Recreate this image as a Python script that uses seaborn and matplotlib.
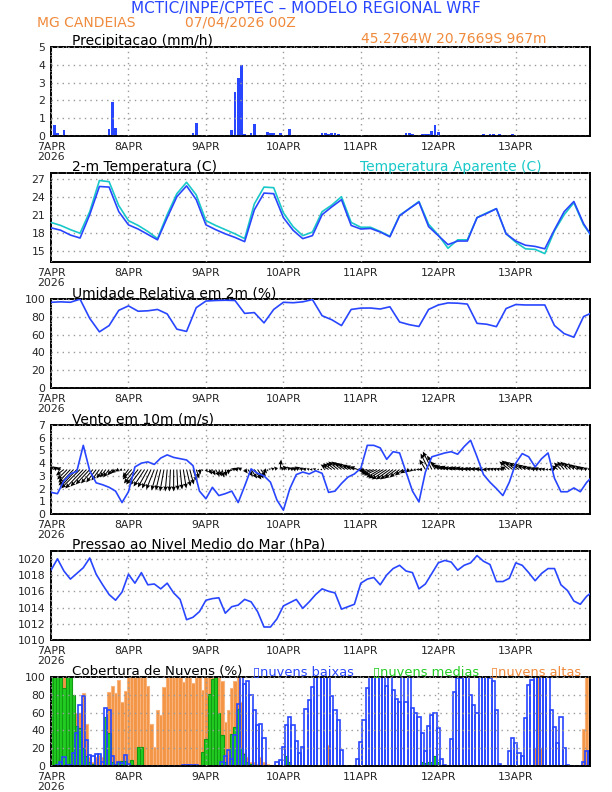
import numpy as np
import matplotlib
matplotlib.use("Agg")
import matplotlib.pyplot as plt
import seaborn as sns

sns.set_style("white")
plt.rcParams['font.family'] = ['DejaVu Sans']

AZUL = '#2846ff'
CIANO = '#19c8c8'
LARANJA = '#f08a3c'
VERDE = '#22cc22'

# eixos de tempo (horas desde 07/04/2026 00Z)
horas = np.arange(168)
horas_3h = np.arange(0, 169, 3)
horas_2h = np.arange(0, 169, 2)
dias = [0, 24, 48, 72, 96, 120, 144]
rotulos_dias = ['7APR\n2026', '8APR', '9APR', '10APR', '11APR', '12APR', '13APR']

# precipitacao horaria (mm/h)
precip = [
    0, 0.6, 0.15, 0, 0.35, 0, 0, 0, 0, 0, 0, 0, 0, 0, 0, 0.02, 0.02, 0.02, 0.4, 1.9, 0.45, 0, 0, 0,
    0, 0, 0, 0, 0, 0, 0, 0, 0, 0, 0, 0, 0, 0, 0, 0, 0, 0.02, 0.02, 0.02, 0.15, 0.75, 0, 0,
    0, 0.02, 0.02, 0, 0, 0, 0, 0, 0.35, 2.5, 3.25, 4.0, 0.1, 0, 0.15, 0.7, 0, 0.02, 0.02, 0.2, 0.15, 0.15, 0.05, 0.15,
    0, 0.05, 0.4, 0.05, 0, 0, 0, 0, 0, 0, 0, 0.02, 0.15, 0.15, 0.1, 0.15, 0.15, 0.1, 0.05, 0, 0, 0, 0, 0,
    0, 0, 0, 0, 0, 0, 0, 0, 0, 0, 0, 0, 0, 0.02, 0.15, 0.15, 0.1, 0.02, 0.02, 0.1, 0.1, 0.1, 0.3, 0.6,
    0.2, 0.02, 0, 0, 0, 0, 0, 0, 0, 0, 0, 0, 0, 0.02, 0.1, 0.05, 0.1, 0.1, 0.05, 0.1, 0.05, 0, 0, 0.1,
    0.02, 0, 0, 0, 0, 0, 0, 0, 0, 0, 0, 0, 0, 0, 0, 0, 0, 0.03, 0.03, 0.03, 0.03, 0.03, 0.03, 0.03,
]

# temperatura e temperatura aparente (C), a cada 3 h
temp = [18.8, 18.4, 17.6, 17.1, 21.0, 25.7, 25.6, 21.5, 19.3, 18.6, 17.7, 16.8, 20.5, 24.0, 25.8, 23.5,
        19.3, 18.5, 17.8, 17.2, 16.5, 21.8, 24.6, 24.5, 20.5, 18.4, 17.0, 17.5, 21.0, 22.3, 23.5, 19.2,
        18.6, 18.7, 18.1, 17.3, 20.8, 22.0, 23.1, 19.0, 17.5, 16.0, 16.6, 16.6, 20.5, 21.2, 22.0, 17.8,
        16.6, 15.9, 15.7, 15.3, 18.5, 21.5, 23.2, 19.5, 17.0]
temp_aparente = [19.7, 19.2, 18.5, 17.9, 21.5, 26.7, 26.5, 22.5, 20.0, 19.2, 18.2, 17.0, 21.0, 24.5, 26.4, 24.3,
                 20.0, 19.2, 18.5, 17.8, 17.0, 22.8, 25.6, 25.5, 21.3, 19.0, 17.5, 18.1, 21.5, 22.6, 24.0, 19.7,
                 18.9, 18.9, 18.2, 17.4, 20.9, 22.0, 23.2, 19.4, 17.6, 15.4, 16.8, 16.8, 20.5, 21.3, 22.0, 17.8,
                 16.4, 15.3, 15.2, 14.5, 18.3, 21.0, 23.0, 19.3, 17.0]

# umidade relativa (%), a cada 3 h
umidade = [96, 96.5, 96, 99.5, 78, 63, 70, 87, 92, 86, 86.5, 88, 83, 66, 63.5, 90,
           97.4, 98, 98.3, 98, 83.6, 84.5, 73, 88, 96, 95.5, 96.5, 99, 81, 76.5, 70, 88,
           89.5, 89.6, 88.5, 91, 74, 71, 69, 88, 93, 95.3, 95, 94, 72.5, 71.5, 68.8, 89,
           93.5, 93, 93, 93, 70, 61, 57, 80, 85]

# velocidade do vento (m/s), a cada 2 h
vento = [1.7, 1.6, 2.6, 3.15, 3.35, 5.4, 3.4, 2.45, 2.3, 2.1, 1.8, 0.9, 1.75, 3.7, 4.0, 4.1, 3.9,
         4.4, 4.65, 4.45, 4.35, 4.25, 3.8, 1.8, 1.2, 2.1, 1.45, 1.6, 1.8, 0.9, 2.2, 3.55, 3.2, 3.0,
         2.5, 1.1, 0.3, 2.0, 3.1, 3.3, 3.15, 3.4, 3.2, 1.7, 1.8, 2.4, 2.9, 3.15, 3.6, 5.4, 5.4,
         5.2, 4.3, 4.9, 4.8, 3.3, 1.8, 0.95, 3.3, 4.5, 4.65, 4.8, 4.9, 4.7, 5.3, 5.8, 4.5, 3.1,
         2.5, 2.0, 1.45, 2.5, 4.0, 4.75, 4.5, 3.7, 4.35, 4.8, 2.8, 1.75, 1.75, 2.05, 1.75, 2.5, 3.0]

# componentes do vento (m/s), horario
vento_u = [
    -1.5, -1.5, -1.25, -1.25, -2, -2.5, -3, -3.75, -4.25, -4.75, -4.5, -4, -3.5, -3, -2.5, -2, -1.5, -1.5, -1.5, -1.25, -1.25, -1, -0.75, -0.5,
    -1.5, -2.25, -2.75, -3, -3, -2.75, -2.5, -2.25, -2, -1.5, -1.25, -1, -0.5, -0.25, 0, 0.25, 0.5, 0.75, 1, 1, 1, 0.75, 0.25, -0.25,
    0.5, 0.75, 0.75, 1, 0.75, 0.5, 0.25, 0, -0.5, -1, -1.25, -1, 0.75, 1.25, 1.5, 1.75, 1.5, 1.25, 0.75, 0.25, -0.5, -0.75, -0.75, 0.25,
    -0.75, -1, -0.75, -1, -1.25, -1.25, -1, -1, -0.75, -0.75, -0.75, -0.5, -0.5, -0.5, -2, -2.25, -2.25, -2.5, -2.5, -2.5, -2.5, -2.25, -2.25, -2,
    -1, -1.5, -2, -2.5, -3, -3.25, -3.5, -3.75, -3.75, -3.5, -3.25, -3, -2.5, -2, -1.5, -1, -0.75, -0.75, -0.75, -1, -1.5, -2, -2.25, -2,
    -2, -2.25, -2.5, -2.5, -2.75, -2.75, -2.5, -2.5, -2.25, -2.25, -2, -2, -1.75, -1.5, -1.5, -1.25, -1, -1, -1, -1, -1, -1.5, -2.5, -2.75,
    -2.75, -2.5, -2.25, -2, -1.75, -1.5, -1.25, -1.25, -1, -1, -0.75, -0.75, -1, -1.5, -1.75, -1.75, -1.75, -1.75, -1.5, -1.5, -1.25, -1.25, -1, -0.75,
]
vento_v = [
    0.75, 0.75, 0.75, 0.5, -1.5, -2.5, -3.25, -4, -4.5, -4.75, -4.75, -4.25, -3.75, -3.5, -3.25, -2.75, -2.25, -2, -2, -1.5, -1, -0.5, -0.25, -0.25,
    -2, -2.5, -3.5, -3.75, -4, -4.25, -4.5, -4.75, -5, -5.25, -5.25, -5.5, -5.5, -5.5, -5.5, -5.25, -5, -4.75, -4.25, -3.75, -3, -2.25, -1.25, -0.5,
    -0.75, -1.25, -1.5, -1.75, -1.75, -2, -1.75, -1.25, -0.5, 0.25, 0.25, 0.5, -1, -1.75, -2.25, -2.5, -2.25, -1.75, -1, -0.5, 0.25, 0.5, 0.75, 2.5,
    0.75, 1, 0.75, 0.5, 0.5, 0.75, 0.5, 0.25, 0.25, 0, 0.25, 0, 0, 0.25, 1.25, 1.5, 1.75, 2, 2, 1.75, 1.5, 1.25, 1, 0.75,
    0, -0.25, -0.5, -1, -1.25, -1.5, -2, -2.25, -2.5, -2.5, -2.5, -2.25, -2, -1.5, -1, -0.75, -0.5, -0.25, 0, 0, 2.5, 4, 4.5, 3.5,
    2, 1.25, 1, 0.75, 0.75, 0.5, 0.5, 0.5, 0.5, 0.25, 0.25, 0.25, 0.25, 0.25, 0, 0, 0.25, 0.25, 0.25, 0.25, 0.25, 0.75, 2, 2.25,
    2, 1.75, 1.5, 1.25, 1, 0.75, 0.5, 0.5, 0.25, 0.25, 0, 0, 0.25, 1, 1.75, 2, 2, 1.75, 1.5, 1.25, 1, 0.75, 0.5, 0.25,
]

# pressao ao nivel medio do mar (hPa), a cada 2 h
pressao = [1018.6, 1020.0, 1018.5, 1017.5, 1018.2, 1018.9, 1020.1, 1018.1, 1016.8, 1015.6,
           1014.9, 1015.9, 1018.1, 1017.0, 1018.3, 1016.8, 1016.9, 1016.3, 1017.0, 1015.8,
           1015.0, 1012.5, 1012.8, 1013.5, 1014.9, 1015.1, 1015.2, 1013.3, 1014.1, 1014.3,
           1015.0, 1014.7, 1013.5, 1011.6, 1011.6, 1012.6, 1014.2, 1014.6, 1015.0, 1013.9,
           1014.7, 1015.6, 1016.3, 1016.0, 1015.8, 1013.8, 1014.1, 1014.4, 1017.0, 1017.5,
           1017.7, 1016.8, 1018.0, 1018.8, 1019.2, 1018.5, 1018.3, 1016.3, 1016.9, 1018.2,
           1019.5, 1019.8, 1019.6, 1018.6, 1019.2, 1019.5, 1020.4, 1019.7, 1019.3, 1017.2,
           1017.2, 1017.6, 1019.5, 1019.2, 1018.3, 1017.3, 1018.2, 1018.8, 1018.8, 1016.8,
           1016.1, 1014.8, 1014.4, 1015.4, 1016.0]

# cobertura de nuvens (%), horario
nuvens_baixas = [
    0, 0, 2, 5, 10, 2, 2, 15, 37, 68, 78, 29, 13, 11, 14, 14, 5, 65, 63, 11, 2, 5, 4, 13,
    3, 0, 0, 0, 0, 0, 0, 0, 0, 0, 0, 0, 0, 0, 0, 0, 0, 1, 2, 2, 1, 1, 0, 0,
    0, 0, 0, 0, 0, 5, 12, 18, 8, 35, 70, 100, 92, 95, 80, 63, 46, 47, 32, 0, 0, 0, 5, 7,
    22, 46, 55, 46, 28, 15, 22, 64, 74, 89, 100, 100, 100, 100, 100, 78, 63, 52, 18, 0, 0, 0, 0, 8,
    27, 52, 87, 100, 100, 100, 100, 100, 90, 100, 85, 75, 72, 100, 72, 100, 65, 60, 55, 37, 17, 45, 57, 60,
    43, 8, 2, 0, 30, 83, 98, 98, 100, 100, 80, 68, 60, 100, 100, 100, 98, 95, 63, 3, 0, 0, 17, 32,
    26, 15, 12, 54, 91, 96, 100, 100, 100, 100, 100, 63, 44, 26, 55, 20, 2, 0, 0, 0, 0, 5, 17, 17,
]
nuvens_medias = [
    100, 100, 100, 100, 87, 100, 100, 80, 45, 43, 20, 12, 5, 3, 2, 1, 2, 55, 37, 5, 2, 5, 6, 6,
    2, 7, 2, 22, 22, 0, 0, 0, 0, 0, 0, 0, 0, 0, 0, 0, 0, 0, 0, 0, 0, 0, 0, 16,
    31, 81, 97, 100, 60, 35, 5, 2, 36, 44, 64, 20, 14, 5, 3, 2, 0, 0, 0, 0, 0, 0, 0, 0,
    2, 12, 5, 0, 0, 0, 0, 0, 0, 0, 0, 0, 0, 0, 0, 0, 0, 0, 0, 0, 0, 0, 0, 0,
    0, 0, 0, 0, 0, 0, 0, 0, 0, 0, 0, 0, 0, 0, 0, 0, 0, 0, 0, 5, 4, 5, 5, 12,
    5, 2, 0, 0, 0, 0, 0, 0, 0, 0, 0, 0, 0, 0, 0, 0, 0, 0, 1, 2, 0, 0, 0, 0,
    0, 0, 0, 0, 0, 0, 0, 0, 0, 0, 0, 0, 0, 0, 0, 0, 0, 0, 0, 0, 0, 0, 0, 0,
]
nuvens_altas = [
    100, 100, 100, 100, 100, 100, 70, 60, 60, 60, 82, 47, 10, 5, 10, 13, 10, 27, 83, 90, 82, 96, 72, 84,
    100, 100, 100, 100, 100, 100, 90, 47, 22, 63, 57, 88, 100, 100, 100, 100, 100, 94, 100, 100, 93, 100, 100, 85,
    100, 100, 100, 100, 100, 95, 50, 63, 87, 95, 100, 72, 15, 10, 5, 5, 3, 10, 5, 3, 2, 0, 0, 0,
    0, 0, 0, 0, 0, 0, 0, 0, 0, 0, 0, 0, 0, 0, 24, 0, 0, 0, 0, 0, 0, 0, 0, 0,
    0, 0, 0, 0, 0, 0, 0, 0, 0, 0, 0, 0, 0, 0, 0, 0, 0, 0, 0, 0, 0, 0, 0, 0,
    0, 0, 0, 0, 0, 0, 0, 0, 0, 0, 0, 0, 0, 0, 0, 0, 0, 0, 0, 0, 0, 0, 0, 0,
    0, 0, 0, 0, 0, 0, 20, 100, 20, 0, 0, 0, 0, 0, 0, 0, 0, 0, 0, 0, 0, 42, 100, 70,
]


def estilo(ax, ylim, yticks):
    ax.set_xlim(0, 167)
    ax.set_ylim(*ylim)
    ax.set_xticks(dias)
    ax.set_xticklabels(rotulos_dias)
    primeiro = ax.get_xticklabels()[0]
    primeiro.set_multialignment('left')
    primeiro.set_linespacing(1.0)
    ax.set_yticks(yticks)
    ax.tick_params(axis='both', direction='out', length=3, width=1, pad=1.2, labelsize=7.8)
    ax.grid(True, color='#9a9a9a', linestyle=(0, (1, 3)), linewidth=1)
    ax.set_axisbelow(False)
    for s in ax.spines.values():
        s.set_linewidth(1.4)
        s.set_color('black')
    for lado in ['top', 'left']:
        ax.spines[lado].set_linestyle((0, (3, 1.2)))
    ax.set_xlabel('')
    ax.set_ylabel('')


fig = plt.figure(figsize=(6.12, 7.92), dpi=100)
W, H = 612.0, 792.0


def painel(topo, base):
    return fig.add_axes([51 / W, 1 - base / H, 539 / W, (base - topo) / H])


def texto(x, y, s, cor='black', tam=10, **kw):
    fig.text(x / W, 1 - y / H, s, color=cor, fontsize=tam, va='baseline', **kw)


# cabecalho
texto(306, 13, 'MCTIC/INPE/CPTEC – MODELO REGIONAL WRF', AZUL, 11, ha='center')
texto(37, 27, 'MG CANDEIAS', LARANJA, 10)
texto(185, 27, '07/04/2026 00Z', LARANJA, 10)

# Precipitacao
ax = painel(47, 136)
sns.histplot(x=horas, weights=precip, discrete=True, shrink=0.85, color=AZUL,
             alpha=1, linewidth=0, ax=ax)
estilo(ax, (0, 5), range(0, 6))
texto(72, 44.5, 'Precipitacao (mm/h)')
texto(361, 43, '45.2764W 20.7669S 967m', LARANJA, 10)

# Temperatura
ax = painel(172.7, 262)
sns.lineplot(x=horas_3h, y=temp_aparente, color=CIANO, linewidth=1.2, ax=ax, zorder=3)
sns.lineplot(x=horas_3h, y=temp, color=AZUL, linewidth=1.2, ax=ax, zorder=3)
estilo(ax, (13.1, 28), [15, 18, 21, 24, 27])
texto(72, 171, '2-m Temperatura (C)')
texto(360, 171, 'Temperatura Aparente (C)', CIANO)

# Umidade
ax = painel(298.7, 388.3)
sns.lineplot(x=horas_3h, y=umidade, color=AZUL, linewidth=1.2, ax=ax, zorder=3)
estilo(ax, (0, 100), range(0, 101, 20))
texto(72, 297.5, 'Umidade Relativa em 2m (%)')

# Vento
ax = painel(425, 514)
ax.quiver(horas, np.full(len(horas), 3.5), vento_u, vento_v, angles='uv',
          scale_units='inches', scale=25, width=0.0019, headwidth=4.5,
          headlength=5, headaxislength=4.5, color='black', zorder=3)
sns.lineplot(x=horas_2h, y=vento, color=AZUL, linewidth=1.2, ax=ax, zorder=4)
estilo(ax, (0, 7), range(0, 8))
texto(72, 423.5, 'Vento em 10m (m/s)')

# Pressao
ax = painel(550.7, 640)
sns.lineplot(x=horas_2h, y=pressao, color=AZUL, linewidth=1.2, ax=ax, zorder=3)
estilo(ax, (1010, 1021), range(1010, 1021, 2))
texto(72, 549, 'Pressao ao Nivel Medio do Mar (hPa)')

# Nuvens
ax = painel(676.7, 766.3)
sns.histplot(x=horas, weights=nuvens_altas, discrete=True, color='#f39545',
             edgecolor='#f8b47c', linewidth=0.8, alpha=1, ax=ax)
sns.histplot(x=horas, weights=nuvens_medias, discrete=True, color=VERDE,
             edgecolor='#129a12', linewidth=0.8, alpha=1, ax=ax)
sns.histplot(x=horas, weights=nuvens_baixas, discrete=True, fill=False,
             color=AZUL, linewidth=1.2, ax=ax)
estilo(ax, (0, 100), range(0, 101, 20))
texto(72, 675, 'Cobertura de Nuvens (%)', tam=9.6)
texto(253, 675, '\u25afnuvens baixas', AZUL, 9.4)
texto(373, 675, '\u25afnuvens medias', VERDE, 9.4)
texto(491, 675, '\u25afnuvens altas', LARANJA, 9.4)

fig.savefig('out.png', dpi=100)
